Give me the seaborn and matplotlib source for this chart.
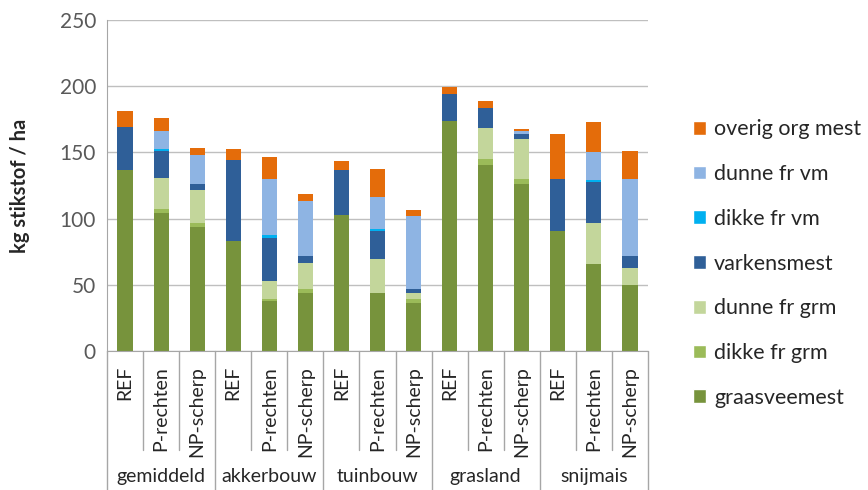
import numpy as np
import pandas as pd
import matplotlib
matplotlib.use("Agg")
import matplotlib.pyplot as plt
import matplotlib.transforms as mtrans
from matplotlib.patches import Patch
import seaborn as sns

# categorieen en scenario's
groepen = ["gemiddeld", "akkerbouw", "tuinbouw", "grasland", "snijmais"]
scenarios = ["REF", "P-rechten", "NP-scherp"]

# waarden per mestsoort (kg N / ha), 15 staven: groep x scenario
graasveemest = [137, 104, 93.5, 83, 37.5, 43.5, 103, 43.5, 36.5, 173.5, 140.5, 126, 91, 66, 50]
dikke_fr_grm = [0, 3, 3.5, 0, 1.5, 3.5, 0, 0.5, 2.5, 0, 4.5, 4, 0, 0, 0]
dunne_fr_grm = [0, 23.5, 24.5, 0, 13.5, 19.5, 0, 25.5, 4.5, 0, 23.5, 30, 0, 31, 12.5]
varkensmest = [32.5, 20.5, 5, 61, 32.5, 5.5, 34, 21, 3.5, 20.5, 15, 4, 39, 31, 9]
dikke_fr_vm = [0, 1.5, 0, 0, 3, 0, 0, 1.5, 0, 0, 0, 0, 0, 1.2, 0]
dunne_fr_vm = [0, 13.5, 21.5, 0, 42, 41, 0, 24.5, 55, 0, 0, 2, 0, 21.5, 58.5]
overig_org_mest = [12, 10, 5.5, 8.5, 16.5, 5.5, 6.5, 21, 4.5, 5.5, 5, 1.5, 34, 22, 21]

series_namen = ["graasveemest", "dikke fr grm", "dunne fr grm", "varkensmest",
                "dikke fr vm", "dunne fr vm", "overig org mest"]
series_waarden = [graasveemest, dikke_fr_grm, dunne_fr_grm, varkensmest,
                  dikke_fr_vm, dunne_fr_vm, overig_org_mest]
kleuren = ["#77933C", "#9BBB59", "#C3D69B", "#2F5F98", "#00B0F0", "#8EB4E3", "#E46C0A"]

sns.set_style("white")
plt.rcParams['font.family'] = ['Lato', 'DejaVu Sans']

# sleutels voor de x-as
sleutels = [g + "|" + s for g in groepen for s in scenarios]
df = pd.DataFrame(dict(zip(series_namen, series_waarden)), index=sleutels)
cum = df.cumsum(axis=1)

fig = plt.figure(figsize=(8.68, 4.9), dpi=100)
ax = fig.add_axes([0.1233, 0.2837, 0.6232, 0.6753])

# gestapelde staven: hoogste cumulatieve eerst tekenen
for naam, kleur in reversed(list(zip(series_namen, kleuren))):
    sns.barplot(x=sleutels, y=cum[naam].values, order=sleutels, color=kleur,
                saturation=1, width=0.42, linewidth=0, ax=ax)

ax.set_ylim(0, 250)
ax.set_xlim(-0.5, len(sleutels) - 0.5)
ax.set_yticks(np.arange(0, 251, 50))
ax.tick_params(axis="y", labelsize=15, colors="#595959", length=4, width=0.8, pad=4)
ax.tick_params(axis="y", color="#A6A6A6")
ax.set_xticks([])
ax.yaxis.grid(True, color="#BFBFBF", linewidth=1)
ax.set_axisbelow(True)
for kant in ["top", "right"]:
    ax.spines[kant].set_visible(False)
for kant in ["left", "bottom"]:
    ax.spines[kant].set_color("#A6A6A6")
ax.set_ylabel("kg stikstof / ha", fontsize=14.5, fontweight="bold")
ax.yaxis.set_label_coords(-0.143, 0.5)

# labels en scheidingslijnen onder de as
trans = mtrans.blended_transform_factory(ax.transData, ax.transAxes)
lijnkleur = "#A6A6A6"
for i, sl in enumerate(sleutels):
    g, s = sl.split("|")
    ax.text(i, -0.045, s, rotation=90, ha="center", va="top", fontsize=14,
            color="#262626", transform=trans, clip_on=False)
for i in range(len(sleutels) + 1):
    x = i - 0.5
    onder = -0.42 if i % 3 == 0 else -0.3
    ax.plot([x, x], [0, onder], color=lijnkleur, linewidth=1, transform=trans, clip_on=False)
for j, g in enumerate(groepen):
    ax.text(j * 3 + 1, -0.38, g, ha="center", va="center", fontsize=14,
            color="#262626", transform=trans, clip_on=False)

# legenda, omgekeerde volgorde
handles = [Patch(facecolor=k, label=n) for n, k in zip(series_namen, kleuren)][::-1]
fig.legend(handles=handles, loc="upper left", bbox_to_anchor=(0.789, 0.774),
           frameon=False, fontsize=15.5, handlelength=0.6, handleheight=0.6,
           handletextpad=0.35, labelspacing=1.15, borderaxespad=0)

fig.savefig("out.png", dpi=100)
